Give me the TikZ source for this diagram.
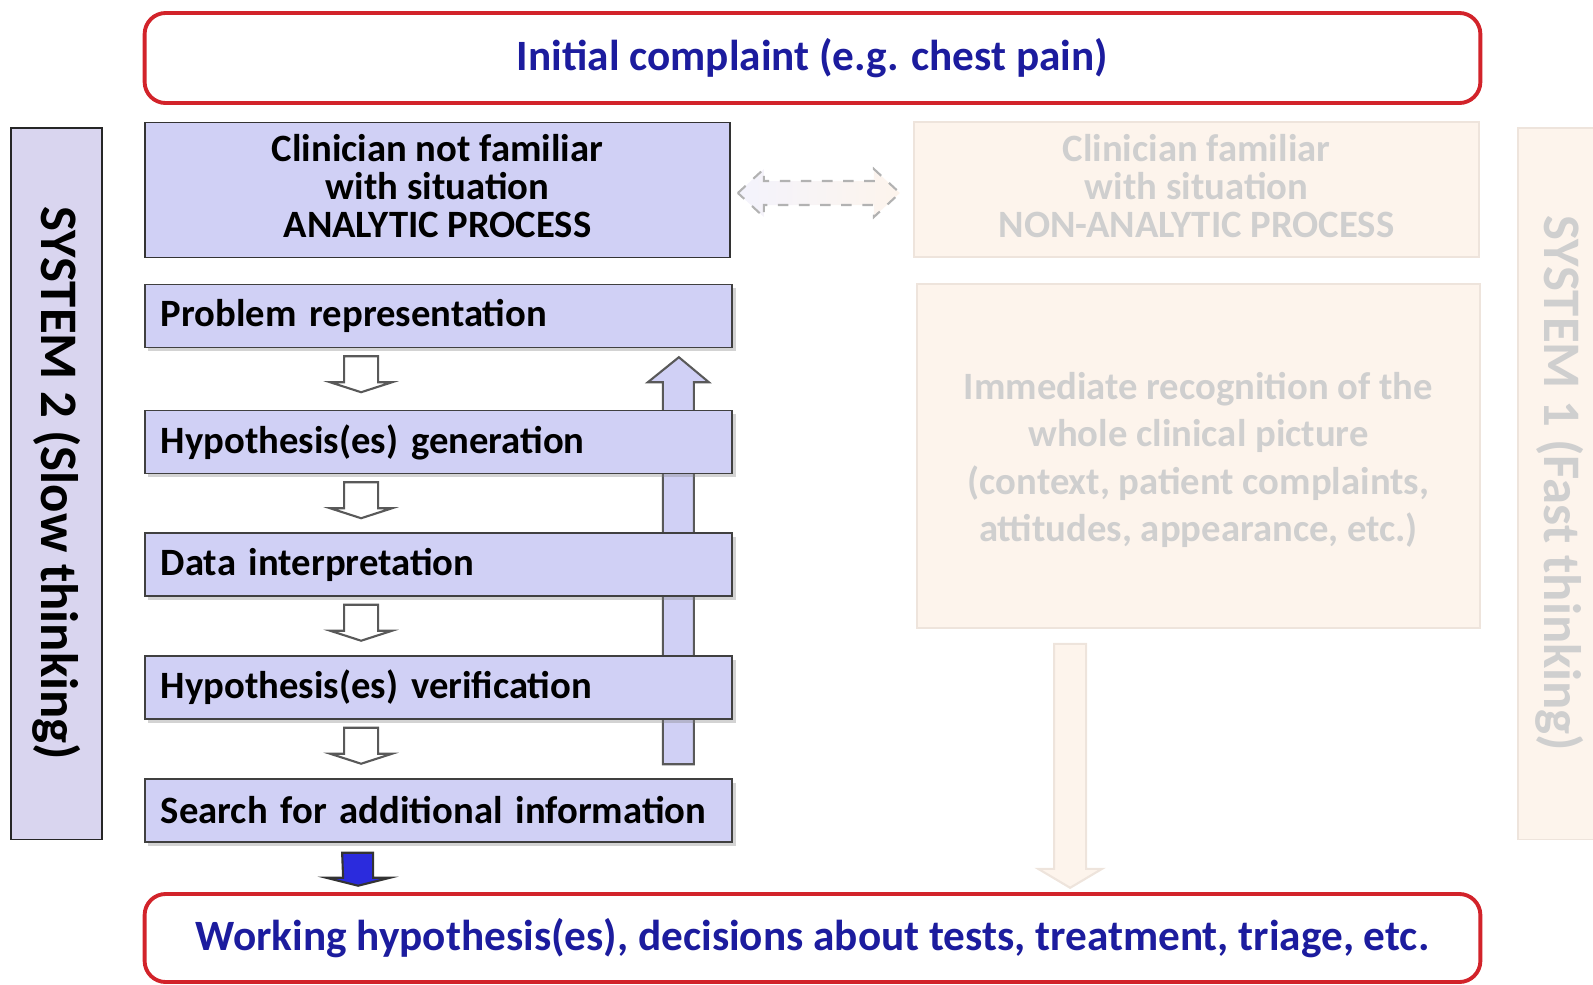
\documentclass[tikz,border=0pt]{standalone}
\usepackage{fontspec}
\setmainfont{Carlito}
\usepackage{xcolor}
\usepackage{tikz}
\usetikzlibrary{
	calc,
	positioning,
	shadows,
	backgrounds
	}
\definecolor{bleutitre}{HTML}{1C1C9E}
\definecolor{rougecadre}{HTML}{D2232A}
\definecolor{lavande}{HTML}{D0D0F5}
\definecolor{lavandesys}{HTML}{D9D5EF}
\definecolor{peche}{HTML}{FDF4EC}
\definecolor{pechebord}{HTML}{EEE4DC}
\definecolor{grispale}{HTML}{CFCFCF}
\definecolor{bleufleche}{HTML}{2B2BDD}
\tikzstyle{cadre-rouge}=[draw=rougecadre,line width=1.1pt,rounded corners=6pt,fill=white,minimum width=13.35cm,text=bleutitre,font=\fontsize{12.3}{14}\selectfont\bfseries]
\tikzstyle{etape-std}=[draw=black!75,fill=lavande,minimum width=5.87cm,minimum height=0.63cm,text width=5.55cm,align=left,inner xsep=0.16cm,font=\fontsize{11}{13}\selectfont\bfseries,drop shadow={shadow xshift=1pt,shadow yshift=-1pt,opacity=0.35}]
\tikzstyle{boite-pale}=[draw=pechebord,fill=peche,text=grispale,align=center,font=\fontsize{11}{13.5}\selectfont\bfseries]
\tikzstyle{systeme-std}=[rotate=-90,minimum height=0.91cm,minimum width=7.11cm,font=\fontsize{15}{18}\selectfont\bfseries]
\tikzstyle{fleche-etape}=[draw=black!65,fill=white,line width=0.6pt,line join=miter]
\begin{document}
\begin{tikzpicture}[x=0.01cm,y=-0.01cm]
\useasboundingbox (0,0) rectangle (1593,984);

\node[cadre-rouge,minimum height=0.9cm] (plainte) at (812.5,58) {Initial complaint (e.g. chest pain)};
\node[cadre-rouge,minimum height=0.88cm] (decision) at (812.5,938) {Working hypothesis(es), decisions about tests, treatment, triage, etc.};

\node[systeme-std,draw=black!85,fill=lavandesys] (systeme2) at (56.5,483.5) {SYSTEM 2 (Slow thinking)};
\begin{scope}
\clip (0,0) rectangle (1593,984);
\node[systeme-std,minimum height=0.84cm,draw=pechebord,fill=peche,text=grispale] (systeme1) at (1560,483.5) {SYSTEM 1 (Fast thinking)};
\end{scope}

\node[draw=black!80,fill=lavande,minimum width=5.85cm,minimum height=1.3cm,align=center,font=\fontsize{11}{10.8}\selectfont\bfseries] (clinicien-nf) at (437.5,190) {Clinician not familiar\\with situation\\ANALYTIC PROCESS\rule[-2.3pt]{0pt}{0pt}};
\node[boite-pale,minimum width=5.65cm,minimum height=1.29cm,font=\fontsize{11}{10.8}\selectfont\bfseries] (clinicien-f) at (1196.5,189.5) {Clinician familiar\\with situation\\NON-ANALYTIC PROCESS\rule[-2.3pt]{0pt}{0pt}};
\node[boite-pale,minimum width=5.63cm,minimum height=3.44cm] (reconnaissance) at (1198.5,456) {\rule{0pt}{10pt}Immediate recognition of the\\whole clinical picture\\(context, patient complaints,\\attitudes, appearance, etc.)};

\node[etape-std] (etape1) at (438.5,316) {Problem representation};
\node[etape-std] (etape2) at (438.5,442) {Hypothesis(es) generation};
\node[etape-std] (etape3) at (438.5,564.5) {Data interpretation};
\node[etape-std] (etape4) at (438.5,687.5) {Hypothesis(es) verification};
\node[etape-std] (etape5) at (438.5,810.5) {Search for additional information};

% retour vers le haut
\begin{pgfonlayer}{background}
\draw[fleche-etape,fill=lavande] ($(etape1.south east)+(-54,9)$) -- ++(30,25) -- ++(-15,0) -- ++(0,382) -- ++(-31,0) -- ++(0,-382) -- ++(-15,0) -- cycle;
\end{pgfonlayer}

\foreach \n in {1,2,3,4}
	\draw[fleche-etape] ($(etape\n.south west)+(200,8)$) -- ++(34,0) -- ++(0,26) -- ++(14,0) -- ++(-31,10) -- ++(-31,-10) -- ++(14,0) -- cycle;

\draw[draw=black!80,fill=bleufleche,line width=0.6pt] ($(etape5.south west)+(198,10)$) -- ++(31,0) -- ++(0,25) -- ++(17,0) -- ++(-32,8) -- ++(-32,-8) -- ++(17,0) -- cycle;

\draw[draw=pechebord,fill=peche,line width=0.6pt] ($(reconnaissance.south west)+(138,15)$) -- ++(32,0) -- ++(0,225) -- ++(16,0) -- ++(-32,19) -- ++(-32,-19) -- ++(16,0) -- cycle;

\draw[draw=black!30,dashed,line width=0.6pt,left color=lavande!25,right color=peche] ($(clinicien-nf.east)+(7,3)$) -- ++(26,-24) -- ++(0,12) -- ++(110,0) -- ++(0,-12) -- ++(26,24) -- ++(-26,24) -- ++(0,-12) -- ++(-110,0) -- ++(0,12) -- cycle;
\end{tikzpicture}
\end{document}
